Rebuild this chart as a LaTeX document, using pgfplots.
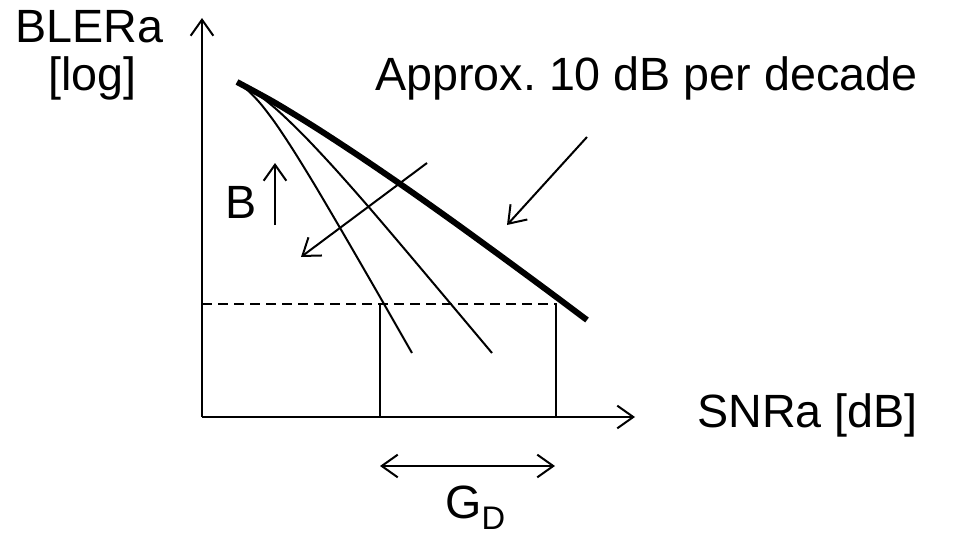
\documentclass[border=0pt]{standalone}
\usepackage{pgfplots}
\pgfplotsset{compat=1.18}
\usepackage{fontspec}
\setmainfont{Liberation Sans}
\usetikzlibrary{arrows.meta}
\begin{document}
\begin{tikzpicture}[
  >={Straight Barb[length=12pt,width=17pt,line width=1.5pt]},
  lbl/.style={anchor=base west,inner sep=0pt,font=\fontsize{35}{42}\selectfont}]
\begin{axis}[
  scale only axis, width=714.75pt, height=402.75pt,
  xmin=0, xmax=953, ymin=0, ymax=537,
  axis lines=none, clip=false]
% axes of the sketch
\draw[line width=1.8pt,->] (axis cs:202,120) -- (axis cs:202,519);
\draw[line width=1.8pt,->] (axis cs:202,120) -- (axis cs:635,120);
% target BLER level and the two SNR points
\draw[line width=1.5pt,dash pattern=on 7.5pt off 4.5pt] (axis cs:202,233) -- (axis cs:557,233);
\draw[line width=1.5pt] (axis cs:380,233) -- (axis cs:380,120);
\draw[line width=1.5pt] (axis cs:556,233) -- (axis cs:556,120);
% BLER curves
\addplot[line width=4.5pt, smooth, no marks] coordinates {
 (237,455) (274.4,434.6) (315.9,409.2) (360.4,380.1) (406.8,348.4)
 (453.8,315.1) (500.3,281.3) (545.1,248.3) (587,217)};
\addplot[line width=1.5pt, smooth, no marks] coordinates {
 (237,454) (248.0,446.4) (260.4,433.5) (275.2,414.1) (293.0,387.3)
 (314.8,351.9) (341.3,306.9) (373.5,251.3) (412,184)};
\addplot[line width=1.5pt, smooth, no marks] coordinates {
 (237,454) (255.1,444.6) (277.1,427.1) (303.1,402.2) (333.0,370.4)
 (366.9,332.1) (404.6,287.9) (446.3,238.4) (492,184)};
% annotations
\draw[line width=1.5pt,->] (axis cs:275,312) -- (axis cs:275,374);
\draw[line width=1.5pt,->] (axis cs:427,374) -- (axis cs:301,280);
\draw[line width=1.5pt,->] (axis cs:587,400) -- (axis cs:507,312);
\draw[line width=1.5pt,<->] (axis cs:380,71) -- (axis cs:555,71);
\node[lbl] at (axis cs:15,494) {BLERa};
\node[lbl] at (axis cs:48,447) {[log]};
\node[lbl] at (axis cs:375,446) {Approx.\ 10 dB per decade};
\node[lbl] at (axis cs:697,110) {SNRa [dB]};
\node[lbl] at (axis cs:225,319) {B};
\node[lbl] at (axis cs:445,19) {G\textsubscript{D}};
\end{axis}
\pgfresetboundingbox
\path (current axis.south west) rectangle (current axis.north east);
\end{tikzpicture}
\end{document}
